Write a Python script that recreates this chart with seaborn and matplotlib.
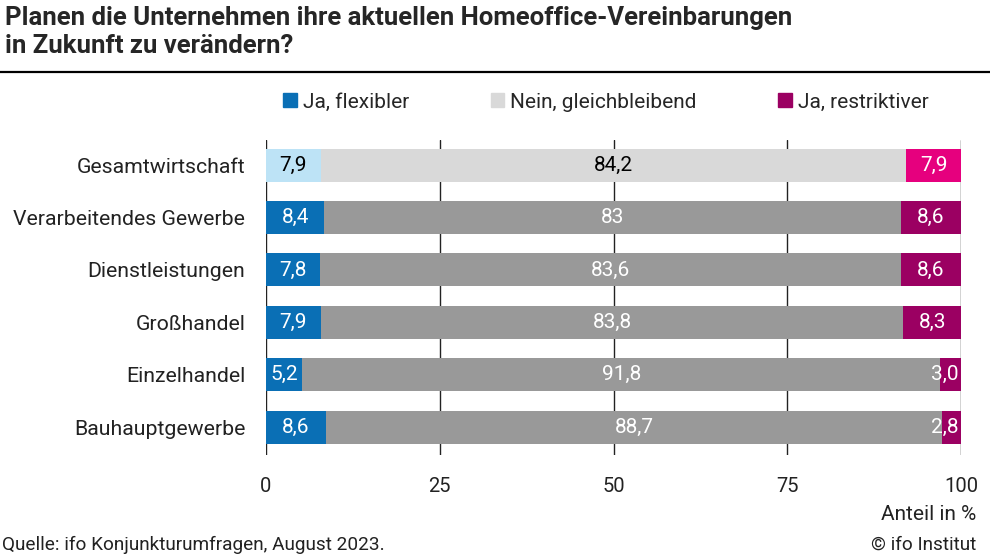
import numpy as np
import pandas as pd
import matplotlib.pyplot as plt
import seaborn as sns
from matplotlib.lines import Line2D
from matplotlib.patches import Patch

branchen = ["Gesamtwirtschaft", "Verarbeitendes Gewerbe", "Dienstleistungen",
            "Großhandel", "Einzelhandel", "Bauhauptgewerbe"]
flexibler = [7.9, 8.4, 7.8, 7.9, 5.2, 8.6]
gleichbleibend = [84.2, 83.0, 83.6, 83.8, 91.8, 88.7]
restriktiver = [7.9, 8.6, 8.6, 8.3, 3.0, 2.8]
lab_flex = ["7,9", "8,4", "7,8", "7,9", "5,2", "8,6"]
lab_gleich = ["84,2", "83", "83,6", "83,8", "91,8", "88,7"]
lab_restr = ["7,9", "8,6", "8,6", "8,3", "3,0", "2,8"]
x_ticks = [0, 25, 50, 75, 100]

sns.set_style("white")
plt.rcParams['font.family'] = ['Roboto', 'DejaVu Sans']

blue, blue_l = "#0a6fb5", "#bde3f6"
grey, grey_l = "#999999", "#d9d9d9"
purple, pink = "#9b0062", "#e6007e"
fs = 15

df = pd.DataFrame({"Branche": branchen, "flex": flexibler,
                   "gleich": gleichbleibend, "restr": restriktiver})
df["cum2"] = df["flex"] + df["gleich"]
df["cum3"] = df["cum2"] + df["restr"]

fig = plt.figure(figsize=(9.9, 5.57), dpi=100)
ax = fig.add_axes([266 / 990, 1 - 455 / 557, 695 / 990, 315 / 557])

n = len(branchen)
layers = [("cum3", [pink] + [purple] * (n - 1)),
          ("cum2", [grey_l] + [grey] * (n - 1)),
          ("flex", [blue_l] + [blue] * (n - 1))]
for col, pal in layers:
    sns.barplot(data=df, y="Branche", x=col, hue="Branche", palette=pal,
                legend=False, width=0.63, saturation=1, orient="h", ax=ax,
                linewidth=0)

ax.set_xlim(0, 100)
ax.set_ylim(n - 1 + 0.53, -0.48)
ax.set_xticks(x_ticks)
ax.set_xticklabels([str(t) for t in x_ticks])
ax.grid(axis="x", color="#222222", lw=1)
ax.grid(axis="y", visible=False)
ax.set_axisbelow(True)
sns.despine(ax=ax, left=True, bottom=True)
ax.set_xlabel("")
ax.set_ylabel("")
ax.tick_params(axis="x", length=0, pad=16, labelsize=14.5, labelcolor="#222222")
ax.tick_params(axis="y", length=0, pad=15, labelsize=15.3, labelcolor="#222222")

# Werte in die Balken schreiben
for i in range(n):
    txt_c = "black" if i == 0 else "white"
    f, g, r = flexibler[i], gleichbleibend[i], restriktiver[i]
    ax.text(f / 2, i, lab_flex[i], ha="center", va="center", fontsize=fs, color=txt_c)
    ax.text(f + g / 2, i, lab_gleich[i], ha="center", va="center", fontsize=fs, color=txt_c)
    if r < 5:
        ax.text(99.6, i, lab_restr[i], ha="right", va="center", fontsize=fs, color="white")
    else:
        ax.text(f + g + r / 2, i, lab_restr[i], ha="center", va="center", fontsize=fs, color="white")

handles = [Patch(color=blue), Patch(color=grey_l), Patch(color=purple)]
fig.legend(handles, ["Ja, flexibler", "Nein, gleichbleibend", "Ja, restriktiver"],
           loc="center", bbox_to_anchor=(606 / 990, 1 - 102 / 557), ncol=3,
           frameon=False, fontsize=fs, handlelength=0.65, handleheight=0.65,
           handletextpad=0.3, columnspacing=3.9)

fig.text(5 / 990, 1 - 6 / 557,
         "Planen die Unternehmen ihre aktuellen Homeoffice-Vereinbarungen\nin Zukunft zu verändern?",
         ha="left", va="top", fontsize=18.5, fontweight="bold", linespacing=1.2)
fig.add_artist(Line2D([0, 1], [1 - 72 / 557] * 2, color="black", lw=1.6))

fig.text(976 / 990, 1 - 515 / 557, "Anteil in %", ha="right", va="center", fontsize=fs, color="#222222")
fig.text(2 / 990, 1 - 545 / 557, "Quelle: ifo Konjunkturumfragen, August 2023.", ha="left",
         va="center", fontsize=13.7, color="#222222")
fig.text(976 / 990, 1 - 545 / 557, "© ifo Institut", ha="right", va="center", fontsize=13.7, color="#222222")

fig.savefig("out.png", dpi=100)
